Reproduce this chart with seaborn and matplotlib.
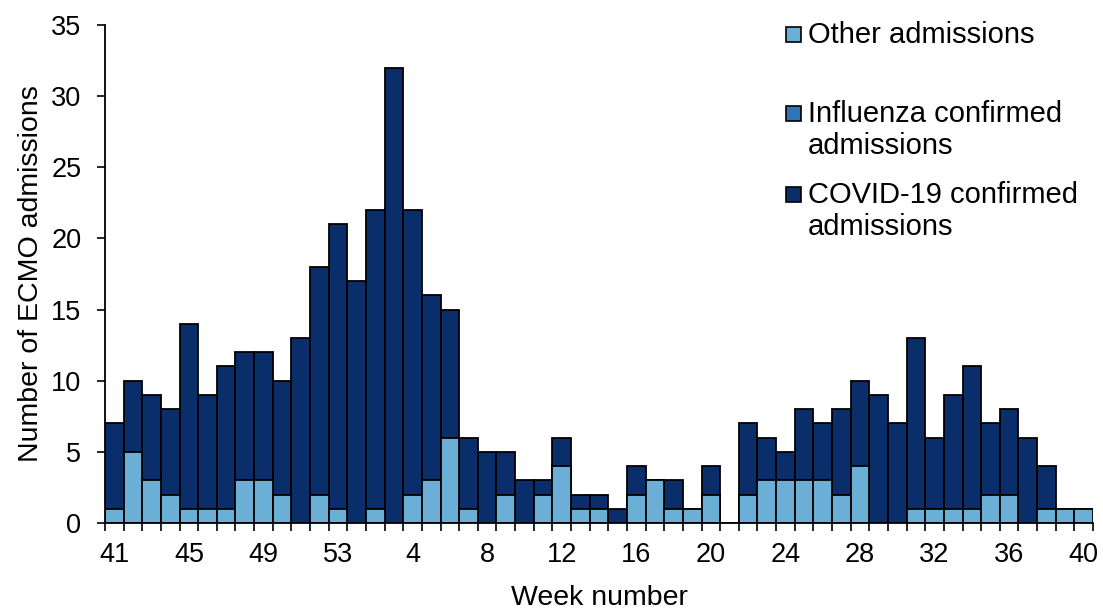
import numpy as np
import pandas as pd
import seaborn as sns
import matplotlib.pyplot as plt
from matplotlib.patches import Rectangle

# week numbers (41-53 of first year, then 1-40)
weeks = [str(w) for w in list(range(41, 54)) + list(range(1, 41))]

# total admissions per week
total = [7, 10, 9, 8, 14, 9, 11, 12, 12, 10, 13, 18, 21,
         17, 22, 32, 22, 16, 15, 6, 5, 5, 3, 3, 6, 2, 2, 1, 4, 3,
         3, 1, 4, 0, 7, 6, 5, 8, 7, 8, 10, 9, 7, 13, 6, 9, 11, 7,
         8, 6, 4, 1, 1]
# other admissions per week
other = [1, 5, 3, 2, 1, 1, 1, 3, 3, 2, 0, 2, 1,
         0, 1, 0, 2, 3, 6, 1, 0, 2, 0, 2, 4, 1, 1, 0, 2, 3,
         1, 1, 2, 0, 2, 3, 3, 3, 3, 2, 4, 0, 0, 1, 1, 1, 1, 2,
         2, 0, 1, 1, 1]
# influenza confirmed admissions per week
flu = [0] * len(weeks)

df = pd.DataFrame({'week': weeks, 'total': total, 'other': other, 'flu': flu})
df['other_flu'] = df.other + df.flu

c_other = '#6BAED6'
c_flu = '#2E75B6'
c_covid = '#0A2E6A'

plt.rcParams['font.family'] = ['Liberation Sans', 'DejaVu Sans']
W, H = 1103, 612

fig, ax = plt.subplots(figsize=(W / 100, H / 100), dpi=100)
fig.subplots_adjust(left=105 / W, right=1093 / W, bottom=1 - 523 / H, top=1 - 25 / H)

kw = dict(x='week', order=weeks, width=1, edgecolor='black', linewidth=1.3,
          saturation=1, ax=ax, errorbar=None)
sns.barplot(data=df, y='total', color=c_covid, **kw)
sns.barplot(data=df, y='other_flu', color=c_flu, **kw)
sns.barplot(data=df, y='other', color=c_other, **kw)

ax.set_xlim(-0.5, len(weeks) - 0.5)
ax.set_ylim(0, 35)
ax.set_yticks(range(0, 36, 5))
ax.tick_params(axis='y', labelsize=19.5, length=6, width=1.2, direction='out', pad=11)

# labels every 4th week, tick marks between categories
ax.set_xticks(range(0, len(weeks), 4))
ax.set_xticklabels(weeks[::4])
ax.tick_params(axis='x', which='major', labelsize=19.5, length=0, pad=14)
ax.set_xticks(np.arange(-0.5, len(weeks), 1), minor=True)
ax.tick_params(axis='x', which='minor', length=6, width=1.2, direction='out')

for s in ['top', 'right']:
    ax.spines[s].set_visible(False)
for s in ['left', 'bottom']:
    ax.spines[s].set_linewidth(1.3)
    ax.spines[s].set_color('black')

ax.set_xlabel('Week number', fontsize=20.5, labelpad=12)
ax.set_ylabel('Number of ECMO admissions', fontsize=20.5, labelpad=5)

# legend drawn by hand to follow the original layout (key aligned with first line)
leg_colors = [c_other, c_flu, c_covid]
leg_lines = [['Other admissions'],
             ['Influenza confirmed', 'admissions'],
             ['COVID-19 confirmed', 'admissions']]
leg_base = [43, 122, 203]
for col, lines, yb in zip(leg_colors, leg_lines, leg_base):
    fig.add_artist(Rectangle((786 / W, 1 - (yb - 1) / H), 15 / W, 15 / H,
                             transform=fig.transFigure, facecolor=col,
                             edgecolor='black', linewidth=1.2))
    for i, line in enumerate(lines):
        fig.text(808 / W, 1 - (yb + 32 * i) / H, line, fontsize=21,
                 va='baseline', ha='left')

fig.savefig('out.png', dpi=100)
